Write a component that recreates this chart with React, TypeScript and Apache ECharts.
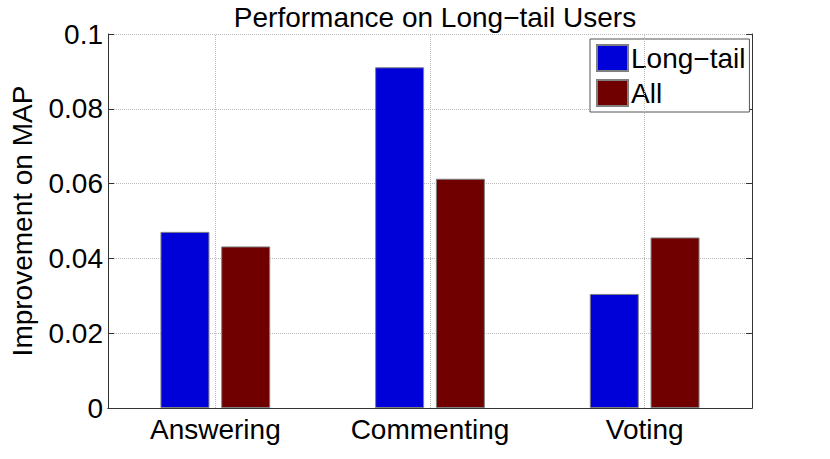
import React, { useEffect, useRef } from "react";
import * as echarts from "echarts";

const categories = ["Answering", "Commenting", "Voting"];
const longTail = [0.0471, 0.0911, 0.0305];
const allUsers = [0.0432, 0.0613, 0.0456];
const seriesNames = ["Long\u2212tail", "All"];
const titleText = "Performance on Long\u2212tail Users";
const yName = "Improvement on MAP";

const FONT = "'Liberation Sans', Arial, Helvetica, sans-serif";
const FS = 28;

export default function App() {
  const ref = useRef<HTMLDivElement>(null);
  useEffect(() => {
    document.body.style.margin = "0";
    const chart = echarts.init(ref.current!, null, { renderer: "svg" });
    const tickLabel = { color: "#000", fontSize: FS, fontFamily: FONT };
    chart.setOption({
      animation: false,
      backgroundColor: "#fff",
      title: {
        text: titleText,
        left: 430,
        top: -2,
        textAlign: "center",
        textStyle: { color: "#000", fontSize: FS, fontWeight: "normal", fontFamily: FONT },
      },
      legend: {
        orient: "vertical",
        left: 590,
        top: 39,
        padding: [5, 4, 5, 6],
        itemGap: 7,
        itemWidth: 31,
        itemHeight: 26,
        icon: "rect",
        borderColor: "#555",
        borderWidth: 1,
        backgroundColor: "#fff",
        textStyle: { color: "#000", fontSize: FS, fontFamily: FONT, lineHeight: 26, padding: [0, 0, 0, -2] },
        data: seriesNames,
      },
      grid: { left: 108, top: 34, right: 78, bottom: 51, containLabel: false },
      xAxis: [
        {
          type: "category",
          data: categories,
          position: "bottom",
          axisLine: { lineStyle: { color: "#333", width: 1 } },
          axisTick: { inside: true, alignWithLabel: true, length: 6, lineStyle: { color: "#333" } },
          axisLabel: { ...tickLabel, margin: 7 },
          splitLine: { show: false },
        },
        {
          type: "category",
          data: categories,
          position: "top",
          axisLine: { lineStyle: { color: "#333", width: 1 } },
          axisTick: { inside: true, alignWithLabel: true, length: 6, lineStyle: { color: "#333" } },
          axisLabel: { show: false },
          splitLine: { show: false },
        },
      ],
      yAxis: [
        {
          type: "value",
          min: 0,
          max: 0.1,
          interval: 0.02,
          position: "left",
          name: yName,
          nameLocation: "middle",
          nameGap: 72,
          nameTextStyle: { color: "#000", fontSize: FS, fontFamily: FONT },
          axisLine: { show: true, lineStyle: { color: "#333", width: 1 } },
          axisTick: { show: true, inside: true, length: 6, lineStyle: { color: "#333" } },
          axisLabel: { ...tickLabel, margin: 5, formatter: (v: number) => String(+v.toFixed(2)) },
          splitLine: { show: true, lineStyle: { type: "dotted", color: "#bbb", width: 1 } },
        },
        {
          type: "value",
          min: 0,
          max: 0.1,
          interval: 0.02,
          position: "right",
          axisLine: { show: true, lineStyle: { color: "#333", width: 1 } },
          axisTick: { show: true, inside: true, length: 6, lineStyle: { color: "#333" } },
          axisLabel: { show: false },
          splitLine: { show: false },
        },
      ],
      series: [
        {
          name: "grid",
          type: "line",
          data: [],
          z: 1,
          silent: true,
          markLine: {
            silent: true,
            symbol: ["none", "none"],
            label: { show: false },
            lineStyle: { type: "dotted", color: "#bbb", width: 1 },
            data: categories.map((c) => ({ xAxis: c })),
          },
        },
        {
          name: seriesNames[0],
          type: "bar",
          data: longTail,
          barWidth: 49,
          barGap: "24%",
          itemStyle: { color: "#0000d8", borderColor: "#808080", borderWidth: 1 },
          z: 3,
        },
        {
          name: seriesNames[1],
          type: "bar",
          data: allUsers,
          barWidth: 49,
          barGap: "24%",
          itemStyle: { color: "#700000", borderColor: "#808080", borderWidth: 1 },
          z: 3,
        },
      ],
    });
    return () => chart.dispose();
  }, []);
  return <div ref={ref} style={{ position: "fixed", left: 0, top: 0, width: 830, height: 459 }} />;
}
